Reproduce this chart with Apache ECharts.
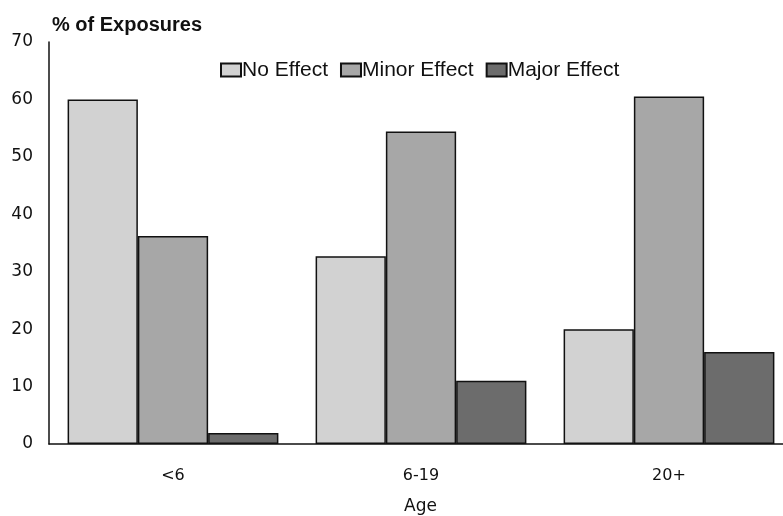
<!DOCTYPE html>
<html style="height: 100%">
<head>
    <script src="https://cdn.jsdelivr.net/npm/echarts@6/dist/echarts.min.js"></script>
</head>
<body style="height: 100%; margin: 0; background: #fff">
    <div id="main" style="width: 783px; height: 516px"></div>
    <script type="text/javascript">
    var ages = ['<6', '6-19', '20+'];
    var noEffect = [60, 32.7, 20];
    var minorEffect = [36.2, 54.4, 60.5];
    var majorEffect = [1.9, 11, 16];

    var chartDom = document.getElementById('main');
    var myChart = echarts.init(chartDom);

    var font = 'Liberation Sans, Arial, sans-serif';
    var tickFont = 'DejaVu Sans, sans-serif';
    var fills = ['#d2d2d2', '#a7a7a7', '#6c6c6c'];

    function barSeries(name, data, i) {
        return {
            name: name,
            type: 'bar',
            barGap: '0%',
            barCategoryGap: '15%',
            itemStyle: { color: fills[i], borderColor: '#111', borderWidth: 1.5 },
            data: data
        };
    }

    var option = {
        backgroundColor: '#fff',
        animation: false,
        title: [{
            text: '% of Exposures',
            left: 47, top: 3,
            textStyle: { fontFamily: font, fontSize: 20, fontWeight: 'bold', color: '#111' }
        }, {
            text: 'Age',
            left: 399, top: 485,
            textStyle: { fontFamily: tickFont, fontSize: 17, fontWeight: 'normal', color: '#111' }
        }],
        legend: {
            left: 215, top: 47,
            itemWidth: 20, itemHeight: 13, itemGap: 12,
            icon: 'rect',
            textStyle: { fontFamily: font, fontSize: 21, color: '#111', padding: [0, 0, 0, -4] },
            data: ['No Effect', 'Minor Effect', 'Major Effect']
        },
        grid: { left: 49, right: -10, top: 42, bottom: 72, outerBoundsMode: 'none' },
        xAxis: {
            type: 'category',
            data: ages,
            axisLine: { lineStyle: { color: '#111', width: 1.5 } },
            axisTick: { show: false },
            axisLabel: { fontFamily: tickFont, fontSize: 16, color: '#111', margin: 16 }
        },
        yAxis: {
            type: 'value',
            min: 0, max: 70, interval: 10,
            axisLine: { show: true, lineStyle: { color: '#111', width: 1.5 } },
            axisTick: { show: false },
            splitLine: { show: false },
            axisLabel: { fontFamily: tickFont, fontSize: 17, color: '#111', margin: 16 }
        },
        series: [
            barSeries('No Effect', noEffect, 0),
            barSeries('Minor Effect', minorEffect, 1),
            barSeries('Major Effect', majorEffect, 2)
        ]
    };

    myChart.setOption(option);
    </script>
</body>
</html>
